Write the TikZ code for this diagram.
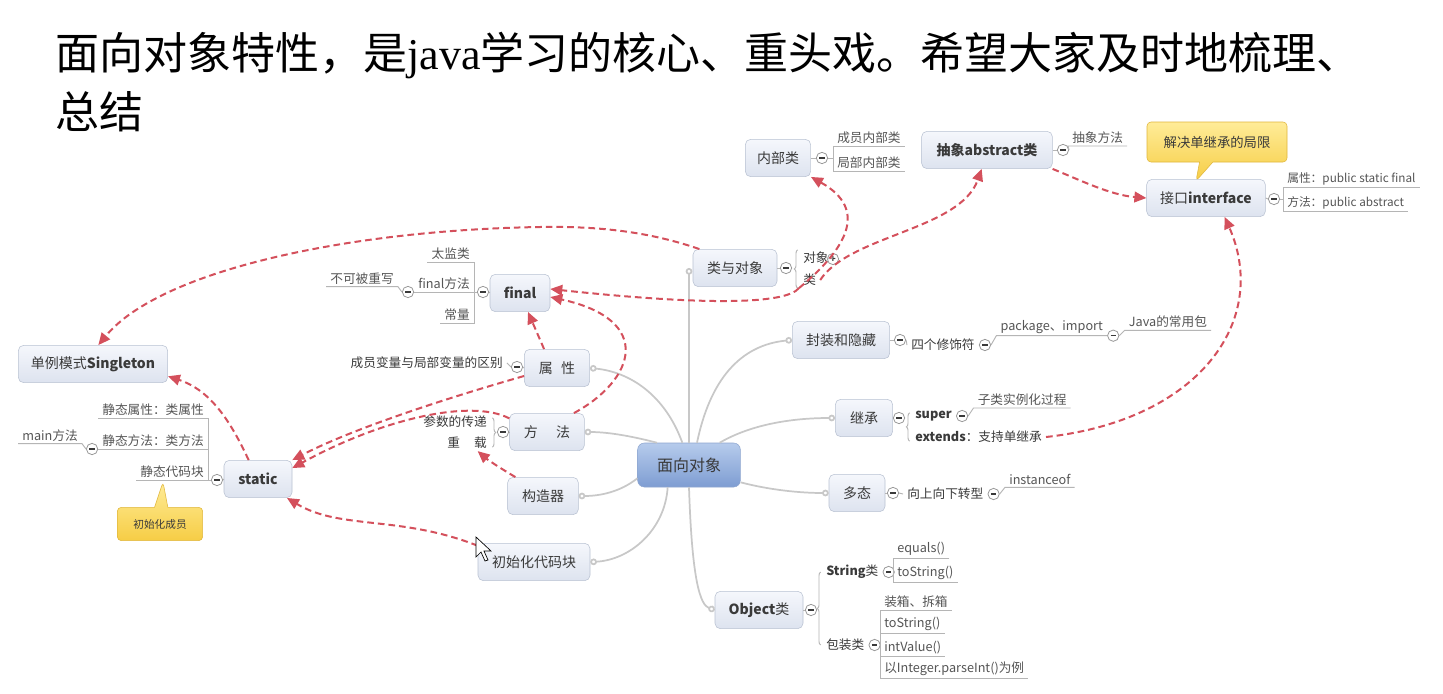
\documentclass[tikz,border=0pt]{standalone}
\usepackage{fontspec}
\setmainfont{Noto Sans CJK SC}
\newfontfamily\latinserif{Liberation Serif}
\usetikzlibrary{arrows.meta,positioning,shapes.callouts,decorations.pathreplacing}

\definecolor{topictop}{HTML}{F5F7FC}
\definecolor{topicbot}{HTML}{DDE3EF}
\definecolor{topicline}{HTML}{B9C2D2}
\definecolor{centop}{HTML}{B6CBEC}
\definecolor{cenbot}{HTML}{7E9DD2}
\definecolor{cenline}{HTML}{8EA6CF}
\definecolor{txt}{HTML}{3A3A3A}
\definecolor{leaftxt}{HTML}{555555}
\definecolor{branchgray}{HTML}{C8C8C8}
\definecolor{twiggray}{HTML}{B5B5B5}
\definecolor{foldgray}{HTML}{999999}
\definecolor{relred}{HTML}{D4505C}
\definecolor{notetop}{HTML}{FFEC98}
\definecolor{notebot}{HTML}{F6CD45}
\definecolor{notedraw}{HTML}{E0B63C}
\newcommand{\fm}{\rule[0.2pt]{4pt}{1.2pt}}

\begin{document}
\begin{tikzpicture}[
  x=0.75pt, y=-0.75pt,
  title/.style={anchor=north west, align=left, inner sep=0pt, text=black,
    font=\fontsize{33pt}{44pt}\selectfont},
  topic/.style={draw=topicline, rounded corners=4pt, top color=topictop,
    bottom color=topicbot, text=txt, minimum height=28pt, inner sep=2pt,
    font=\fontsize{10.5pt}{12pt}\selectfont},
  centre/.style={draw=cenline, rounded corners=5pt, top color=centop,
    bottom color=cenbot, text=txt, minimum width=77pt, minimum height=33pt,
    font=\fontsize{12pt}{14pt}\selectfont},
  sub/.style={text=txt, inner xsep=3pt, inner ysep=1.5pt,
    font=\fontsize{9.5pt}{11pt}\selectfont},
  leaf/.style={text=leaftxt, inner xsep=3pt, inner ysep=1.5pt,
    font=\fontsize{9.5pt}{11pt}\selectfont},
  fold/.style={circle, draw=foldgray, fill=white, text=txt, inner sep=0pt,
    minimum size=8.5pt, line width=0.6pt},
  note/.style={rectangle callout, draw=notedraw, top color=notetop,
    bottom color=notebot, rounded corners=3pt, text=txt, callout pointer width=10pt},
  branch/.style={draw=branchgray, line width=1.3pt, -{Circle[length=5pt,fill=white]}},
  twig/.style={draw=twiggray, line width=0.7pt},
  curly/.style={twig, decorate, decoration={brace, amplitude=2.5pt}},
  rel/.style={draw=relred, line width=1.5pt, dash pattern=on 5pt off 3pt,
    -{Triangle[length=9pt,width=8pt]}}
]
\useasboundingbox[fill=white] (0,0) rectangle (1443,693);

% title
\node[title] (ttl) at (55,32) {面向对象特性，是{\latinserif java}学习的核心、重头戏。希望大家及时地梳理、\\总结};

% topics
\node[centre] (cen) at (689,465) {面向对象};
\node[topic, minimum width=63pt] (lyd) at (735,268) {类与对象};
\node[topic, minimum width=73pt] (fz) at (841,340) {封装和隐藏};
\node[topic, minimum width=43pt] (jc) at (864,418) {继承};
\node[topic, minimum width=42pt] (dt) at (857,493) {多态};
\node[topic, minimum width=66pt] (obj) at (759,610) {\textbf{Object}类};
\node[topic, minimum width=84pt] (csh) at (534,562) {初始化代码块};
\node[topic, minimum width=53pt] (gzq) at (543,496) {构造器};
\node[topic, minimum width=56pt] (ff) at (547,432) {方\hspace{1.3em}法};
\node[topic, minimum width=49pt] (sx) at (557,368) {属\hspace{0.6em}性};
\node[topic, minimum width=45pt] (fin) at (520,293) {\textbf{final}};
\node[topic, minimum width=51pt] (sta) at (258,479) {\textbf{static}};
\node[topic, minimum width=112pt] (dl) at (93,364) {单例模式\textbf{Singleton}};
\node[topic, minimum width=49pt] (nbl) at (778,158) {内部类};
\node[topic, minimum width=98pt] (abs) at (987,150) {\textbf{抽象abstract类}};
\node[topic, minimum width=89pt] (jk) at (1206,198) {接口\textbf{interface}};

% notes
\node[note, minimum width=105pt, minimum height=30pt, font=\fontsize{10pt}{12pt}\selectfont,
  callout absolute pointer={(1196,181)}] (jjx) at (1217,142) {解决单继承的局限};
\node[note, minimum width=64pt, minimum height=25pt, font=\fontsize{8pt}{10pt}\selectfont,
  callout absolute pointer={(163,482)}] (csc) at (160,524) {初始化成员};

% branches from the centre
\draw[branch] (cen.north) -- (cen.north |- lyd.west);
\draw[branch] ([xshift=6pt]cen.north) .. controls (710,380) and (740,345) .. (fz.west);
\draw[branch] ([xshift=23pt]cen.north) .. controls (750,425) and (790,418) .. (jc.west);
\draw[branch] ([yshift=-13pt]cen.east) .. controls (770,490) and (800,493) .. (dt.west);
\draw[branch] (cen.south) .. controls (692,580) and (700,605) .. (obj.west);
\draw[branch] ([xshift=-5pt]cen.north) .. controls (665,395) and (630,372) .. (sx.east);
\draw[branch] ([xshift=-24pt]cen.north) .. controls (635,437) and (610,432) .. (ff.east);
\draw[branch] ([yshift=-10pt]cen.west) .. controls (620,492) and (600,496) .. (gzq.east);
\draw[branch] ([xshift=-16pt]cen.south) .. controls (665,530) and (630,560) .. (csh.east);

% 类与对象
\node[fold] (flyd) at (786,268) {\fm};
\node[sub, anchor=west] (dx) at (799,258) {对象};
\node[sub, anchor=west] (lei) at (799,280) {类};
\node[fold] (fdx) at (833,259) {\bfseries\fontsize{7pt}{7pt}\selectfont +};
\draw[twig] (lyd.east) -- (flyd.west);
\draw[curly] ([xshift=-1pt]lei.south west) -- ([xshift=-1pt]dx.north west);
\draw[twig] (dx.east) -- (fdx.west);

% 内部类
\node[fold] (fnbl) at (822,158) {\fm};
\node[leaf, anchor=south west] (nb1) at (833,146) {成员内部类};
\node[leaf, anchor=south west] (nb2) at (833,171) {局部内部类};
\draw[twig] (nbl.east) -- (fnbl.west);
\draw[twig] (fnbl.east) -- (fnbl -| nb1.south west);
\draw[twig] (nb1.south east) -- (nb1.south west) -- (nb2.south west) -- (nb2.south east);

% 抽象abstract类
\node[fold] (fabs) at (1063,150) {\fm};
\node[leaf, anchor=south west] (cxf) at (1068,146) {抽象方法};
\draw[twig] (abs.east) -- (fabs.west);
\draw[twig] (fabs.east) -- (cxf.south west) -- (cxf.south east);

% 接口interface
\node[fold] (fjk) at (1274,199) {\fm};
\node[leaf, anchor=south west, font=\fontsize{8.8pt}{10pt}\selectfont] (jk1) at (1283,187) {属性：public static final};
\node[leaf, anchor=south west, font=\fontsize{8.8pt}{10pt}\selectfont] (jk2) at (1283,211) {方法：public abstract};
\draw[twig] (jk.east) -- (fjk.west);
\draw[twig] (fjk.east) -- (fjk -| jk1.south west);
\draw[twig] (jk1.south east) -- (jk1.south west) -- (jk2.south west) -- (jk2.south east);

% 封装和隐藏
\node[fold] (ffz) at (900,340) {\fm};
\node[sub, anchor=west] (xsf) at (907,345) {四个修饰符};
\node[fold, right=0pt of xsf] (fxsf) {\fm};
\node[leaf, anchor=south west] (pkg) at ([xshift=4pt,yshift=7pt]fxsf.east) {package、import};
\node[fold, right=0pt of pkg.south east] (fpkg) {\fm};
\node[leaf, anchor=south west] (jvb) at ([xshift=4pt,yshift=4pt]fpkg.east) {Java的常用包};
\draw[twig] (fz.east) -- (ffz.west);
\draw[twig] (ffz.east) -- (xsf.west);
\draw[twig] (fxsf.east) -- (pkg.south west) -- (pkg.south east) -- (fpkg.west);
\draw[twig] (fpkg.east) -- (jvb.south west) -- (jvb.south east);

% 继承
\node[fold] (fjc) at (899,418) {\fm};
\node[sub, anchor=west] (sup) at (911,416) {\textbf{super}};
\node[sub, anchor=west] (ext) at (911,437) {\textbf{extends}：支持单继承};
\node[fold, right=0pt of sup] (fsup) {\fm};
\node[leaf, anchor=south west] (zsl) at ([xshift=4pt,yshift=6pt]fsup.east) {子类实例化过程};
\draw[twig] (jc.east) -- (fjc.west);
\draw[curly] ([xshift=-1pt,yshift=3pt]ext.south west) -- ([xshift=-1pt,yshift=-3pt]sup.north west);
\draw[twig] (fsup.east) -- (zsl.south west) -- (zsl.south east);

% 多态
\node[fold] (fdt) at (893,493) {\fm};
\node[sub, anchor=west] (zx) at (903,494) {向上向下转型};
\node[fold, right=0pt of zx] (fzx) {\fm};
\node[leaf, anchor=south west] (iof) at ([xshift=4pt,yshift=5pt]fzx.east) {instanceof};
\draw[twig] (dt.east) -- (fdt.west);
\draw[twig] (fdt.east) -- (zx.west);
\draw[twig] (fzx.east) -- (iof.south west) -- (iof.south east);

% Object类
\node[fold] (fobj) at (811,610) {\fm};
\node[sub, anchor=west] (strc) at (822,572) {\textbf{String}类};
\node[sub, anchor=west] (bzl) at (822,645) {包装类};
\node[fold, right=0pt of strc] (fstr) {\fm};
\node[fold, right=0pt of bzl] (fbzl) {\fm};
\node[leaf, anchor=south west] (eqs) at (893,558) {equals()};
\node[leaf, anchor=south west] (ts1) at (893,582) {toString()};
\node[leaf, anchor=south west] (zxx) at (880,610) {装箱、拆箱};
\node[leaf, anchor=south west] (ts2) at (880,633) {toString()};
\node[leaf, anchor=south west] (ivl) at (880,656) {intValue()};
\node[leaf, anchor=south west] (pin) at (880,678) {以Integer.parseInt()为例};
\draw[twig] (obj.east) -- (fobj.west);
\draw[curly] ([xshift=-1pt]bzl.west) -- ([xshift=-1pt]strc.west);
\draw[twig] (fstr.east) -- (fstr -| eqs.south west);
\draw[twig] (eqs.south east) -- (eqs.south west) -- (ts1.south west) -- (ts1.south east);
\draw[twig] (fbzl.east) -- (fbzl -| zxx.south west);
\draw[twig] (zxx.south east) -- (zxx.south west) -- (pin.south west) -- (pin.south east);
\draw[twig] (ts2.south west) -- (ts2.south east);
\draw[twig] (ivl.south west) -- (ivl.south east);

% final
\node[fold] (ffin) at (483,292) {\fm};
\node[leaf, anchor=south east] (tjl) at (474,262) {太监类};
\node[leaf, anchor=south east] (ffm) at (474,292) {final方法};
\node[leaf, anchor=south east] (clg) at (474,323) {常量};
\node[fold, left=0pt of ffm.south west] (fffm) {\fm};
\node[leaf, anchor=south east] (bkc) at ([xshift=-3pt,yshift=4pt]fffm.west) {不可被重写};
\draw[twig] (fin.west) -- (ffin.east);
\draw[twig] (ffin.west) -- (ffm.south east);
\draw[twig] (tjl.south west) -- (tjl.south east) -- (clg.south east) -- (clg.south west);
\draw[twig] (ffm.south east) -- (ffm.south west) -- (fffm.east);
\draw[twig] (fffm.west) -- (bkc.south east) -- (bkc.south west);

% 属性
\node[fold] (fsx) at (517,367) {\fm};
\node[sub, anchor=east] (qbl) at ([xshift=-3pt,yshift=3pt]fsx.west) {成员变量与局部变量的区别};
\draw[twig] (sx.west) -- (fsx.east);
\draw[twig] (fsx.west) -- (qbl.east);

% 方法
\node[fold] (fff) at (503,432) {\fm};
\node[sub, anchor=east] (csd) at (491,422) {参数的传递};
\node[sub, anchor=east] (chz) at (491,443) {重\hspace{1.1em}载};
\draw[twig] (ff.west) -- (fff.east);
\draw[curly] ([xshift=1pt,yshift=-3pt]csd.north east) -- ([xshift=1pt,yshift=3pt]chz.south east);

% static
\node[fold] (fsta) at (217,480) {\fm};
\node[leaf, anchor=south east] (jt1) at (208,418) {静态属性：类属性};
\node[leaf, anchor=south east] (jt2) at (208,449) {静态方法：类方法};
\node[leaf, anchor=south east] (jt3) at (208,480) {静态代码块};
\node[fold, left=0pt of jt2.south west] (fjt2) {\fm};
\node[leaf, anchor=south east] (mnf) at ([xshift=-3pt,yshift=4pt]fjt2.west) {main方法};
\draw[twig] (sta.west) -- (fsta.east);
\draw[twig] (fsta.west) -- (jt3.south east);
\draw[twig] (jt1.south west) -- (jt1.south east) -- (jt3.south east) -- (jt3.south west);
\draw[twig] (jt2.south east) -- (jt2.south west) -- (fjt2.east);
\draw[twig] (fjt2.west) -- (mnf.south east) -- (mnf.south west);

% relations
\draw[rel] ([xshift=5pt]lyd.north west) .. controls (650,232) and (600,226) .. (540,227)
  .. controls (350,230) and (160,270) .. ([xshift=4pt]dl.north);
\draw[rel] (lei.south west) .. controls (845,250) and (870,210) .. (nbl.south east);
\draw[rel] (lei.east) .. controls (850,235) and (960,230) .. ([xshift=-4pt]abs.south);
\draw[rel] (lei.south west) .. controls (785,305) and (700,305) .. ([yshift=3pt]fin.east);
\draw[rel] ([xshift=15pt]sx.north west) -- ([xshift=6pt]fin.south);
\draw[rel] ([xshift=-8pt]ff.north east) .. controls (635,380) and (655,320) .. ([yshift=-3pt]fin.east);
\draw[rel] ([yshift=-6pt]sx.west) .. controls (440,400) and (350,430) .. (sta.north east);
\draw[rel] ([yshift=-4pt]ff.north west) .. controls (470,398) and (380,420) .. ([yshift=-6pt]sta.north east);
\draw[rel] ([xshift=6pt]gzq.north west) .. controls (500,468) and (488,460) .. ([xshift=-10pt]chz.south east);
\draw[rel] ([yshift=-2pt]csh.north west) .. controls (400,515) and (340,530) .. ([xshift=-4pt]sta.south east);
\draw[rel] ([xshift=-7pt]sta.north) .. controls (230,420) and (210,390) .. ([yshift=5pt]dl.south east);
\draw[rel] (abs.south east) .. controls (1080,180) and (1110,195) .. (jk.west);
\draw[rel] (ext.east) .. controls (1200,420) and (1270,320) .. ([xshift=14pt]jk.south);

% mouse pointer
\draw[fill=white, draw=black, line width=0.5pt] (476,537) -- (476,557) -- (481,552)
  -- (485,561) -- (488,560) -- (484,551) -- (491,551) -- cycle;
\end{tikzpicture}
\end{document}
